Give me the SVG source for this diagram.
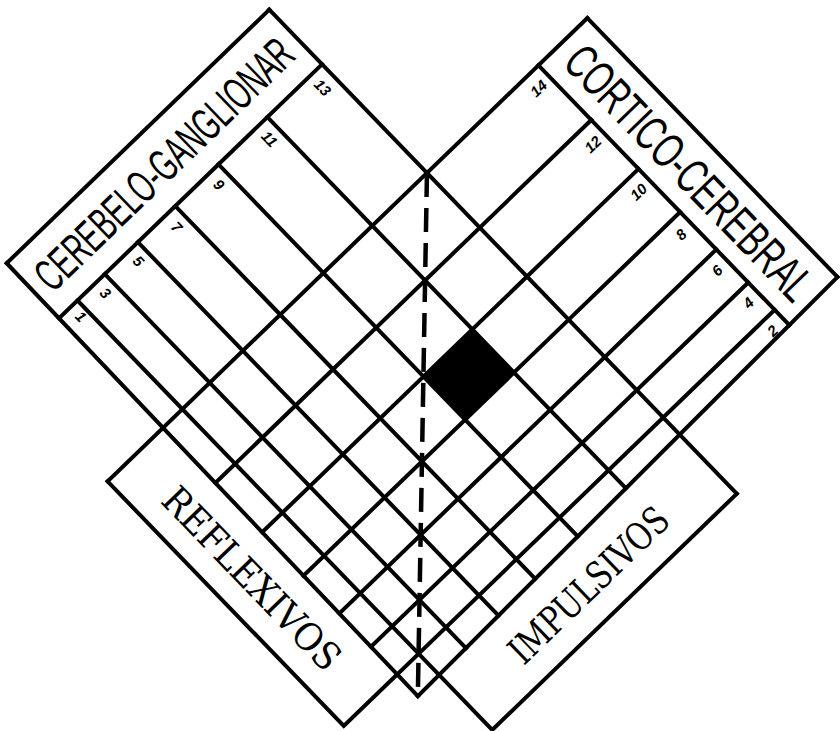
<svg xmlns="http://www.w3.org/2000/svg" width="840" height="731" viewBox="0 0 840 731">
<style>
  .ln{stroke:#000;stroke-width:4;fill:none;stroke-linecap:square;stroke-linejoin:miter}
  .dash{stroke:#000;stroke-width:4.5;fill:none;stroke-dasharray:24 11}
  .big{font-family:"Liberation Sans",Arial,sans-serif;fill:#000}
  .slab{font-family:"DejaVu Serif","Liberation Serif",serif;fill:#000}
  .num{font-family:"Liberation Sans",Arial,sans-serif;font-size:15px;fill:#000;font-style:italic;font-weight:bold}
</style>
<rect width="840" height="731" fill="#fff"/>
<g transform="rotate(-44)">
  <g id="cerebelo-ganglionar">
    <path class="ln" d="M-178,194 H187 M-178.6,270 H187"/>
    <text class="big" transform="translate(4,248) scale(0.594,1)" font-size="46" text-anchor="middle">CEREBELO-GANGLIONAR</text>
    <g class="num" text-anchor="middle">
      <text transform="translate(-162,284) rotate(90)" dy="5">1</text>
      <text transform="translate(-128,284) rotate(90)" dy="5">3</text>
      <text transform="translate(-82,284) rotate(90)" dy="5">5</text>
      <text transform="translate(-31,286) rotate(90)" dy="5">7</text>
      <text transform="translate(29,285) rotate(90)" dy="5">9</text>
      <text transform="translate(97,287) rotate(90)" dy="5">11</text>
      <text transform="translate(171,287) rotate(90)" dy="5">13</text>
    </g>
  </g>
  <g id="cortico-cerebral">
    <path class="ln" d="M342,421 V782.2 M410,421 V781"/>
    <text class="big" transform="translate(359,603) rotate(90) scale(0.66,1)" font-size="49" text-anchor="middle">CORTICO-CEREBRAL</text>
    <g class="num" text-anchor="middle">
      <text x="326" y="438" dy="5">14</text>
      <text x="326" y="516" dy="5">12</text>
      <text x="326" y="582" dy="5">10</text>
      <text x="327" y="642" dy="5">8</text>
      <text x="328" y="693" dy="5">6</text>
      <text x="328" y="738" dy="5">4</text>
      <text x="326" y="775" dy="5">2</text>
    </g>
  </g>
  <g id="reflexivos">
    <path class="ln" d="M-257,421 V761 H-182.7"/>
    <text class="slab" transform="translate(-234,591) rotate(90)" font-size="38" text-anchor="middle" textLength="238" lengthAdjust="spacingAndGlyphs">REFLEXIVOS</text>
  </g>
  <g id="impulsivos">
    <path class="ln" d="M-153,790.5 V867 H187"/>
    <text class="slab" x="17" y="843" font-size="38" text-anchor="middle" textLength="206" lengthAdjust="spacingAndGlyphs">IMPULSIVOS</text>
  </g>
  <g id="grid">
    <path class="ln" d="M-178,194 L-183,791 M187,194 V867"/>
    <path class="ln" d="M-257,421 H410 M-183,791 L410,781"/>
    <path class="ln" d="M-153,270 V790.5 M-115,270 V789.9 M-69,270 V789.1 M-17,270 V788.2 M43,270 V787.2 M111,270 V786"/>
    <path class="ln" d="M-180.5,497 H342 M-181.1,565 H342 M-181.6,625 H342 M-182,677 H342 M-182.4,723 H342 M-182.7,761 H342"/>
    <rect id="cell-black" x="43" y="565" width="68" height="60" fill="#000"/>
  </g>
  <g id="connectors">
    <path class="dash" d="M187,421 L-183,791"/>
  </g>
</g>
</svg>
